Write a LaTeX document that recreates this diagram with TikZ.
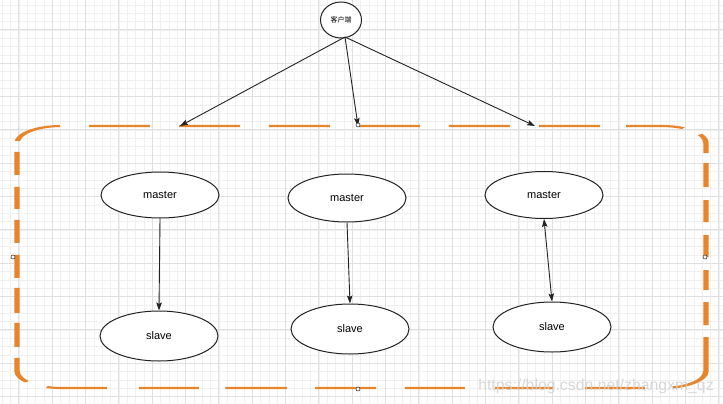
\documentclass[tikz,border=0pt]{standalone}
\usepackage{fontspec}
\setmainfont{Liberation Sans}
\newfontfamily\cjk{Noto Sans CJK SC}
\usetikzlibrary{arrows.meta,shapes.geometric}
\definecolor{dorange}{HTML}{E8852A}
\definecolor{gminorc}{HTML}{F0F0F0}
\definecolor{gmajorc}{HTML}{E0E0E0}
\definecolor{inkc}{HTML}{222222}
\tikzset{
  gminor/.style={gminorc, line width=0.8pt},
  gmajor/.style={gmajorc, line width=1pt},
  ell/.style={ellipse, draw=inkc, line width=1pt, fill=white, minimum width=118pt, minimum height=47pt, inner sep=0pt, font=\fontsize{11}{13}\selectfont},
  arr/.style={draw=inkc, line width=0.9pt, -{Stealth[length=8pt,width=5.5pt,inset=1.5pt]}},
  darr/.style={draw=inkc, line width=0.9pt, {Stealth[length=8pt,width=5.5pt,inset=1.5pt]}-{Stealth[length=8pt,width=5.5pt,inset=1.5pt]}},
  handle/.style={circle, draw=inkc, line width=0.5pt, fill=white, minimum size=4pt, inner sep=0pt},
  frame/.style={dorange, line width=2.1pt, rounded corners=17pt,
    dash pattern=on 23.46pt off 11.16pt on 23.46pt off 11.15pt on 23.46pt off 11.16pt
      on 23.46pt off 11.15pt on 23.46pt off 11.16pt on 23.46pt off 10pt
      on 22.46pt off 9pt on 19.01pt off 10pt on 24pt off 13pt on 22pt off 13pt
      on 22pt off 13pt on 20pt off 12pt on 23pt off 12pt on 56.39pt off 10.8pt
      on 23.05pt off 12.35pt on 22.3pt off 11.5pt on 23.1pt off 11.1pt
      on 23.4pt off 10.9pt on 23.6pt off 10.2pt on 23.1pt off 12.3pt
      on 23.2pt off 9.46pt on 24.65pt off 11pt on 24pt off 10pt on 25pt off 10pt
      on 23pt off 12pt on 23pt off 11pt on 22pt off 12pt on 23pt off 11pt
      on 24.2pt off 11.2pt},
}
\begin{document}
\begin{tikzpicture}[x=1pt,y=-1pt]
\useasboundingbox (0,0) rectangle (723,404);
\fill[white] (0,0) rectangle (723,404);
% grid
\foreach \k in {0,...,87} {\draw[gminor] ({2.3+8.3333*\k},0) -- ++(0,404);}
\foreach \k in {0,...,49} {\draw[gminor] (0,{5+8.3333*\k}) -- ++(723,0);}
\foreach \k in {0,...,21} {\draw[gmajor] ({18.97+33.333*\k},0) -- ++(0,404);}
\foreach \k in {0,...,12} {\draw[gmajor] (0,{30+33.333*\k}) -- ++(723,0);}
% dashed container (stretched horizontally)
\begin{scope}[transform canvas={xscale=2.6}]
\draw[frame]
  (34.23,126) -- (271.54,126) -- (271.54,388) -- (6.54,388) -- (6.54,126) -- (34.23,126);
\end{scope}
% client
\node[ellipse, draw=inkc, line width=1pt, fill=white, minimum width=41pt, minimum height=36pt, inner sep=0pt, font=\cjk\fontsize{7}{8}\selectfont] (c) at (341,20) {客户端};
\coordinate (cb) at (345,37);
\coordinate (t1) at (180,126);
\coordinate (t2) at (358,126);
\coordinate (t3) at (535,126);
\draw[arr] (cb) -- (t1);
\draw[arr] (cb) -- (t2);
\draw[arr] (cb) -- (t3);
% masters and slaves
\node[ell, minimum height=46pt] (m1) at (160,195) {master};
\node[ell, minimum height=48pt] (m2) at (347,198) {master};
\node[ell, minimum height=47pt] (m3) at (544,195) {master};
\node[ell, minimum height=50pt] (s1) at (159,336) {slave};
\node[ell, minimum height=50pt] (s2) at (350,329) {slave};
\node[ell, minimum height=50pt] (s3) at (552,327) {slave};
\draw[arr] (m1.south) -- (s1.north);
\draw[arr] (m2.south) -- (s2.north);
\draw[darr] (m3.south) -- (s3.north);
% selection handles
\node[handle] (h1) at (358,125) {};
\node[handle] (h2) at (13,257) {};
\node[handle] (h3) at (705,257) {};
\node[handle] (h4) at (358,389) {};
% watermark
\node[text=gray!35, opacity=0.85, font=\fontsize{15.8}{18}\selectfont, inner sep=0pt] (wm) at (596,386) {https://blog.csdn.net/zhangxm\_qz};
\end{tikzpicture}
\end{document}
